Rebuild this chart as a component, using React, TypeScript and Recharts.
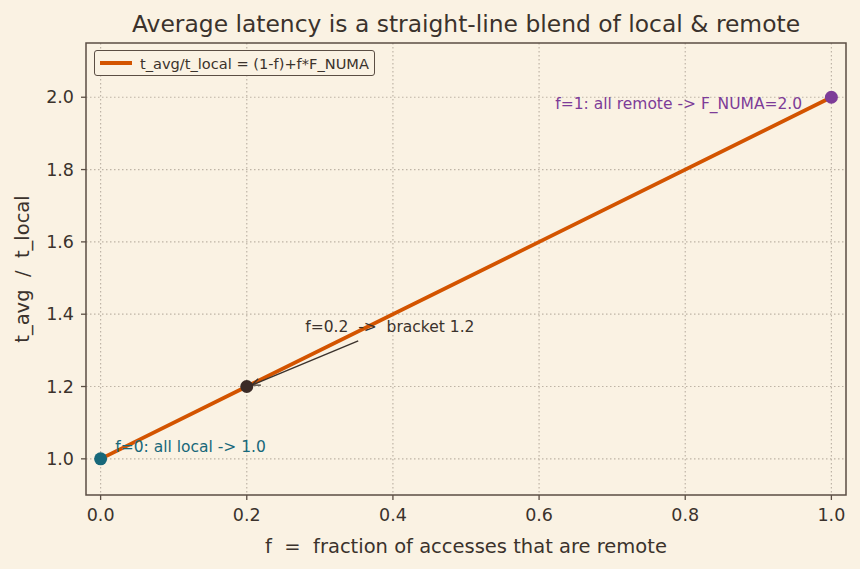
import React from "react";
import { ComposedChart, Line, Scatter, Cell, XAxis, YAxis, CartesianGrid, ReferenceArea, ReferenceDot, ReferenceLine } from "recharts";

const fValues = [0, 0.2, 1];
const ratioValues = [1.0, 1.2, 2.0];
const pointColors = ["#17687a", "#3a2a26", "#7d3c98"];
const xTicks = [0, 0.2, 0.4, 0.6, 0.8, 1.0];
const yTicks = [1.0, 1.2, 1.4, 1.6, 1.8, 2.0];
const seriesName = "t_avg/t_local = (1-f)+f*F_NUMA";

const BG = "#faf2e3";
const INK = "#3b322c";
const AXIS = "#5b4e44";
const GRID = "#beb4a6";
const ORANGE = "#d35400";
const FONT = "'DejaVu Sans', sans-serif";

const data = fValues.map((f, i) => ({ f, r: ratioValues[i] }));

// annotation anchors, in data units
const notes = [
  { x: 0.02, y: 1.033, text: "f=0: all local -> 1.0", color: "#17687a", anchor: "start" },
  { x: 0.96, y: 1.983, text: "f=1: all remote -> F_NUMA=2.0", color: "#7d3c98", anchor: "end" },
  { x: 0.28, y: 1.365, text: "f=0.2  ->  bracket 1.2", color: INK, anchor: "start" },
];

function NoteText(props: any) {
  const { cx, cy, note } = props;
  return (
    <text x={cx} y={cy} dy="0.35em" textAnchor={note.anchor} fill={note.color} fontSize={15.5} fontFamily={FONT} style={{ whiteSpace: "pre" }}>
      {note.text}
    </text>
  );
}

function Arrow(props: any) {
  const { x1, y1, x2, y2 } = props;
  const ang = Math.atan2(y2 - y1, x2 - x1);
  const len = 9;
  const spread = 0.4;
  const ax = x2 - len * Math.cos(ang - spread);
  const ay = y2 - len * Math.sin(ang - spread);
  const bx = x2 - len * Math.cos(ang + spread);
  const by = y2 - len * Math.sin(ang + spread);
  return (
    <g stroke={INK} strokeWidth={1.4} fill="none">
      <line x1={x1} y1={y1} x2={x2} y2={y2} />
      <polyline points={`${ax},${ay} ${x2},${y2} ${bx},${by}`} />
    </g>
  );
}

function XLabel(props: any) {
  const { viewBox } = props;
  return (
    <text x={viewBox.x + viewBox.width / 2} y={546} dy="0.35em" textAnchor="middle" fill={INK} fontSize={19.5} fontFamily={FONT} style={{ whiteSpace: "pre" }}>
      f  =  fraction of accesses that are remote
    </text>
  );
}

function YLabel(props: any) {
  const { viewBox } = props;
  const cy = viewBox.y + viewBox.height / 2;
  return (
    <text x={22} y={cy} dy="0.35em" transform={`rotate(-90, 22, ${cy})`} textAnchor="middle" fill={INK} fontSize={19.5} fontFamily={FONT} style={{ whiteSpace: "pre" }}>
      t_avg  /  t_local
    </text>
  );
}

export default function App() {
  return (
    <div style={{ position: "absolute", left: 0, top: 0, width: 860, height: 569, background: BG, fontFamily: FONT }}>
      <div style={{ position: "absolute", left: 86, width: 760, top: 9, textAlign: "center", fontSize: 23.4, lineHeight: "30px", color: INK }}>
        Average latency is a straight-line blend of local &amp; remote
      </div>
      <ComposedChart width={860} height={569} data={data} margin={{ top: 43, right: 14, bottom: 0, left: 0 }}>
        <CartesianGrid stroke={GRID} strokeWidth={1.2} strokeDasharray="1.5 2.5" horizontalValues={yTicks} verticalValues={xTicks} />
        <XAxis
          type="number"
          dataKey="f"
          domain={[-0.02, 1.02]}
          ticks={xTicks}
          tickFormatter={(v: number) => v.toFixed(1)}
          height={74}
          allowDataOverflow
          axisLine={false}
          tickLine={{ stroke: AXIS, strokeWidth: 1.3 }}
          tickSize={5}
          tickMargin={9}
          tick={{ fill: INK, fontSize: 17.5, fontFamily: FONT }}
          label={<XLabel />}
        />
        <YAxis
          type="number"
          domain={[0.9, 2.15]}
          ticks={yTicks}
          tickFormatter={(v: number) => v.toFixed(1)}
          width={86}
          allowDataOverflow
          axisLine={false}
          tickLine={{ stroke: AXIS, strokeWidth: 1.3 }}
          tickSize={5}
          tickMargin={7}
          tick={{ fill: INK, fontSize: 17.5, fontFamily: FONT }}
          label={<YLabel />}
        />
        <ReferenceArea x1={-0.02} x2={1.02} y1={0.9} y2={2.15} fill="none" stroke={AXIS} strokeWidth={1.5} ifOverflow="visible" />
        <Line dataKey="r" name={seriesName} stroke={ORANGE} strokeWidth={3.8} dot={false} isAnimationActive={false} />
        <Scatter dataKey="r" isAnimationActive={false} shape={(p: any) => <circle cx={p.cx} cy={p.cy} r={6.5} fill={p.fill} />}>
          {data.map((_, i) => (
            <Cell key={i} fill={pointColors[i]} />
          ))}
        </Scatter>
        <ReferenceLine segment={[{ x: 0.3525, y: 1.326 }, { x: 0.207, y: 1.204 }]} shape={Arrow} ifOverflow="visible" />
        {notes.map((n, i) => (
          <ReferenceDot key={i} x={n.x} y={n.y} r={0} shape={(p: any) => <NoteText {...p} note={n} />} ifOverflow="visible" />
        ))}
      </ComposedChart>
      <div style={{ position: "absolute", left: 94, top: 50, height: 26, boxSizing: "border-box", display: "flex", alignItems: "center", border: `1.3px solid ${AXIS}`, borderRadius: 3, background: BG, padding: "0 5px 0 5px", fontSize: 14.6, color: INK }}>
        <span style={{ display: "inline-block", width: 32, height: 3.5, background: ORANGE, marginRight: 8 }} />
        {seriesName}
      </div>
    </div>
  );
}
